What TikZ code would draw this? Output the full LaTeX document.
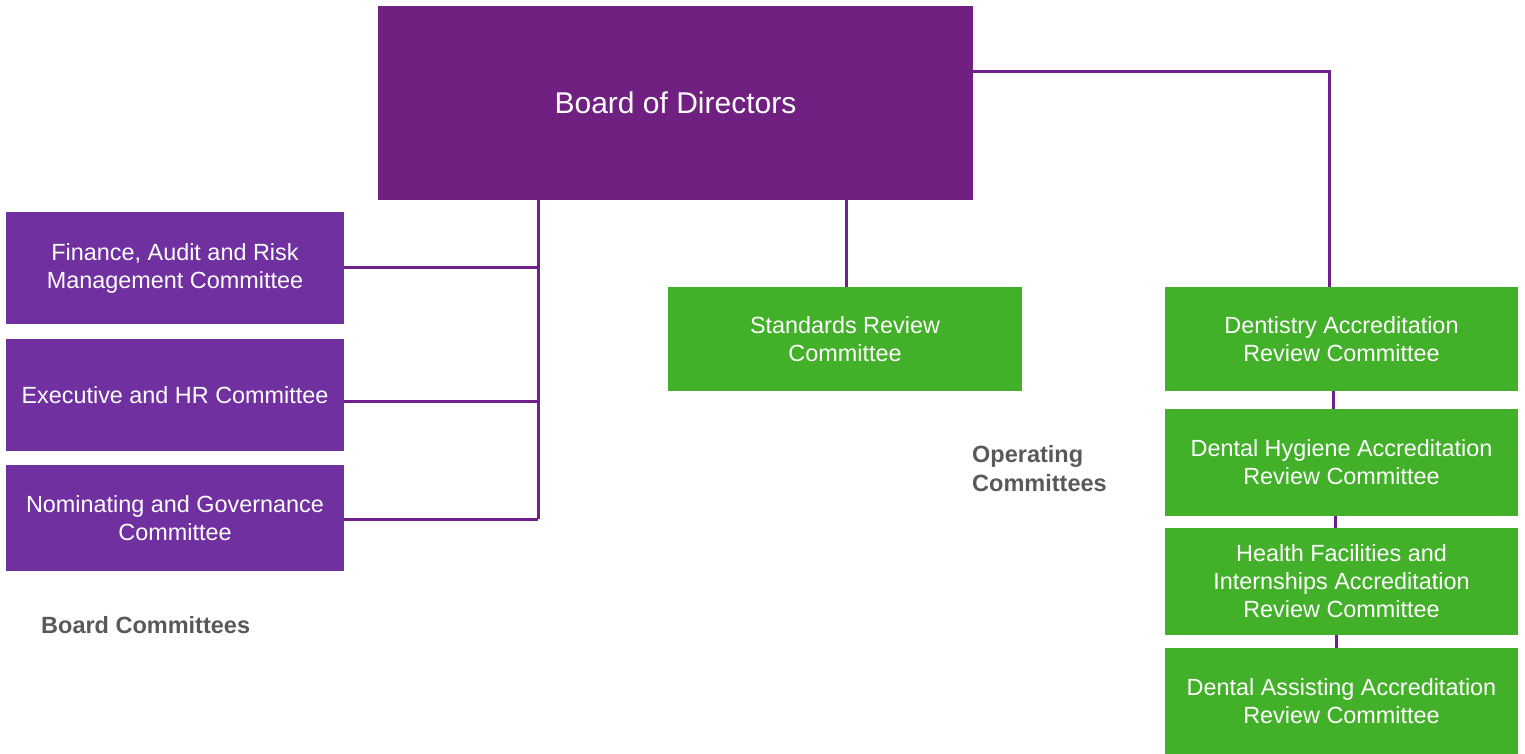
\documentclass[tikz,border=0pt]{standalone}
\usepackage{fontspec}
\setmainfont{Liberation Sans}
\begin{document}
\begin{tikzpicture}[x=1pt,y=-1pt,
  board/.style={fill=boardpurple, draw=none, text=white, align=center, inner sep=0pt},
  bcom/.style={fill=compurple, draw=none, text=white, align=center, inner sep=0pt, font=\fontsize{23.4}{28}\selectfont},
  ocom/.style={fill=opgreen, draw=none, text=white, align=center, inner sep=0pt, font=\fontsize{23.4}{28}\selectfont},
  link/.style={draw=linkpurple, line width=3pt},
  caption/.style={text=capgray, font=\bfseries\fontsize{23.5}{29}\selectfont, align=left, inner sep=0pt}
]
\definecolor{boardpurple}{HTML}{6F2080}
\definecolor{compurple}{HTML}{7030A0}
\definecolor{opgreen}{HTML}{43B02A}
\definecolor{linkpurple}{HTML}{70208A}
\definecolor{capgray}{HTML}{595959}
\useasboundingbox (0,0) rectangle (1525,754);

% connector waypoints
\coordinate (spine) at (538,200);
\coordinate (spineend) at (538,519);
\coordinate (corner) at (1329,72);

% board
\node[board, minimum width=595pt, minimum height=194pt, font=\fontsize{30}{34}\selectfont] (bod) at (675.5,103) {Board of Directors};

% board committees
\node[bcom, minimum width=338pt, minimum height=112pt] (fin) at (175,268) {Finance, Audit and Risk\\Management Committee};
\node[bcom, minimum width=338pt, minimum height=112pt] (exe) at (175,395) {Executive and HR Committee};
\node[bcom, minimum width=338pt, minimum height=106pt] (nom) at (175,518) {Nominating and Governance\\Committee};

% operating committees
\node[ocom, minimum width=354pt, minimum height=104pt] (std) at (845,339) {Standards Review\\Committee};
\node[ocom, minimum width=353pt, minimum height=104pt] (dent) at (1341.5,339) {Dentistry Accreditation\\Review Committee};
\node[ocom, minimum width=353pt, minimum height=107pt] (hyg) at (1341.5,462.5) {Dental Hygiene Accreditation\\Review Committee};
\node[ocom, minimum width=353pt, minimum height=107pt] (hfi) at (1341.5,581.5) {Health Facilities and\\Internships Accreditation\\Review Committee};
\node[ocom, minimum width=353pt, minimum height=106pt] (dass) at (1341.5,701) {Dental Assisting Accreditation\\Review Committee};

% board committee tree
\draw[link] (spine) -- (spineend);
\draw[link] (fin.east |- 0,267) -- (538,267);
\draw[link] (exe.east |- 0,401) -- (538,401);
\draw[link] (nom.east |- 0,519) -- (spineend);

% operating committee links
\draw[link] (bod.south -| std.north) ++(1,0) -- ([xshift=1pt]std.north);
\draw[link] (bod.east |- corner) -- (corner) -- (dent.north -| corner);
\draw[link] ([xshift=-8pt]dent.south) -- ([xshift=-8pt]hyg.north);
\draw[link] ([xshift=-6pt]hyg.south) -- ([xshift=-6pt]hfi.north);
\draw[link] ([xshift=-5pt]hfi.south) -- ([xshift=-5pt]dass.north);

% captions
\node[caption, anchor=west] (bcap) at (41,625) {Board Committees};
\node[caption, anchor=north west] (ocap) at (972,445) {Operating\\Committees};
\end{tikzpicture}
\end{document}
